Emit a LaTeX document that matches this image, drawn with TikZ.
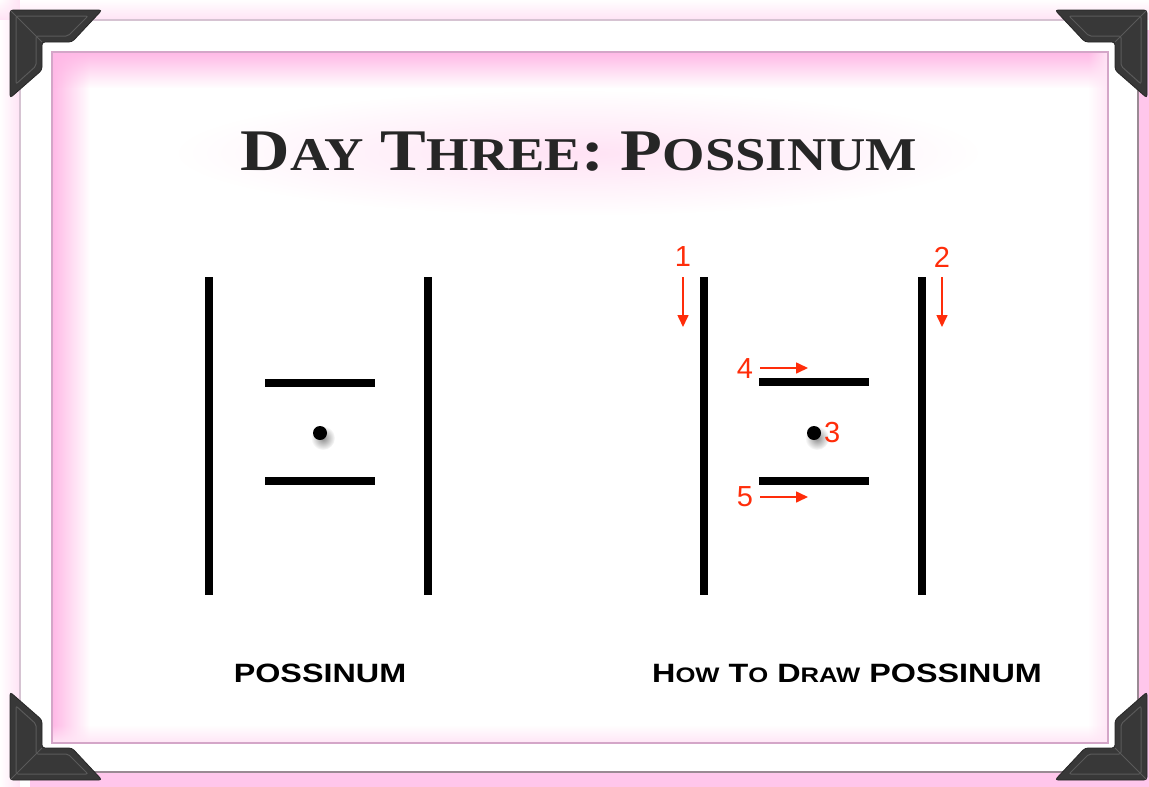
\documentclass[tikz,border=0pt]{standalone}
\usepackage{fontspec}
\newfontfamily\titlefont{Liberation Serif}
\newfontfamily\capsfont{Liberation Sans}
\usetikzlibrary{arrows.meta, fadings}

\definecolor{rosa}{HTML}{FFB8E6}
\definecolor{framegray}{HTML}{D6C3D2}
\definecolor{framedark}{HTML}{9A8A94}
\definecolor{innerline}{HTML}{D4A6C8}
\definecolor{bracketgray}{HTML}{383838}
\definecolor{bevelgray}{HTML}{5A5A5A}
\definecolor{redmark}{HTML}{FF2D0A}
\definecolor{inkdark}{HTML}{262626}

\tikzfading[name=glowleft, left color=transparent!0, right color=transparent!100]
\tikzfading[name=glowright, left color=transparent!100, right color=transparent!0]
\tikzfading[name=glowtop, top color=transparent!0, bottom color=transparent!100]
\tikzfading[name=glowbottom, top color=transparent!100, bottom color=transparent!0]
\tikzfading[name=glowround, inner color=transparent!0, outer color=transparent!100]

% small letters for the fake small caps
\newcommand{\lc}[1]{{\fontsize{47}{47}\selectfont #1}}
\newcommand{\lcap}[1]{{\fontsize{21}{21}\selectfont #1}}

\begin{document}
\begin{tikzpicture}[
    x=1pt, y=-1pt,
    > = {Triangle[length=12pt, width=11pt]},
    stroke/.style={line width=8pt},
    hint/.style={draw=redmark, line width=1.6pt, ->},
    num/.style={text=redmark, font=\capsfont\fontsize{29}{29}\selectfont, inner sep=0pt},
    heading/.style={text=inkdark, font=\titlefont\bfseries\fontsize{59}{59}\selectfont, anchor=base, inner sep=0pt},
    caption/.style={font=\capsfont\bfseries\fontsize{26.5}{27}\selectfont, anchor=base, inner sep=0pt},
    bracket/.style={fill=bracketgray, draw=black!85, line width=0.8pt, rounded corners=3pt},
    bevel/.style={draw=bevelgray, line width=1pt, rounded corners=2pt}
]
    \useasboundingbox (0,0) rectangle (1149,787);
    \fill[white] (0,0) rectangle (1149,787);

    % pink glow round the card
    \fill[rosa!80] (30,30) rectangle (1149,787);
    \fill[rosa!40, path fading=glowbottom] (0,0) rectangle (1149,20);
    \fill[rosa!40, path fading=glowright] (0,0) rectangle (20,787);
    \fill[white] (20,20) rectangle (1138,772);
    \draw[framegray, line width=1.5pt] (20,772) -- (20,20) -- (1138,20);
    \draw[framedark, line width=1.5pt] (1138,20) -- (1138,772) -- (20,772);

    % inner panel with its glow
    \fill[rosa, path fading=glowleft] (52,52) rectangle (90,743);
    \fill[rosa, path fading=glowtop] (52,52) rectangle (1108,88);
    \fill[rosa!35, path fading=glowright] (1088,52) rectangle (1108,743);
    \fill[rosa!35, path fading=glowbottom] (52,725) rectangle (1108,743);
    \draw[innerline, line width=1.2pt] (52,52) rectangle (1108,743);

    % corner pieces
    \foreach \sx/\sy/\dx/\dy in {1/1/0/0, -1/1/1157/0, 1/-1/0/790, -1/-1/1157/790}{
        \begin{scope}[shift={(\dx,\dy)}, xscale=\sx, yscale=\sy]
            \draw[bracket] (10,10) -- (102,10) -- (72,42) -- (42,42) -- (42,70) -- (10,98) -- cycle;
            \draw[bevel] (16,16) -- (88,16) -- (68,36) -- (36,36) -- (36,66) -- (16,84) -- cycle;
            \draw[bevel] (11,11) -- (42,42);
        \end{scope}
    }

    % title
    \fill[rosa!40, path fading=glowround] (579,153) ellipse [x radius=400, y radius=62];
    \node[heading] (title) at (579,170)
        {\scalebox{1.16}[1]{D\lc{AY} T\lc{HREE}: P\lc{OSSINUM}}};

    % the glyph
    \draw[stroke] (209,277) -- (209,595);
    \draw[stroke] (428,277) -- (428,595);
    \draw[stroke] (265,383) -- (375,383);
    \draw[stroke] (265,481) -- (375,481);
    \fill[black!45, path fading=glowround] (323,438) circle (12);
    \fill (320,433) circle (7);
    \node[caption] (name) at (320,682) {\scalebox{1.22}[1]{POSSINUM}};

    % the glyph, stroke by stroke
    \draw[stroke] (703.5,277) -- (703.5,595);
    \draw[stroke] (922,277) -- (922,595);
    \draw[stroke] (759,382) -- (869,382);
    \draw[stroke] (759,481) -- (869,481);
    \fill[black!45, path fading=glowround] (817,438) circle (12);
    \fill (814,433) circle (7);

    \node[num] (n1) at (683,257) {1};
    \node[num] (n2) at (942,257) {2};
    \node[num, anchor=west] (n3) at (824,433) {3};
    \node[num] (n4) at (745,369) {4};
    \node[num] (n5) at (745,497) {5};

    \coordinate (a1s) at (683,277);  \coordinate (a1e) at (683,327);
    \coordinate (a2s) at (942,277);  \coordinate (a2e) at (942,327);
    \coordinate (a4s) at (760,368);  \coordinate (a4e) at (808,368);
    \coordinate (a5s) at (760,497);  \coordinate (a5e) at (808,497);
    \draw[hint] (a1s) -- (a1e);
    \draw[hint] (a2s) -- (a2e);
    \draw[hint] (a4s) -- (a4e);
    \draw[hint] (a5s) -- (a5e);

    \node[caption] (howto) at (847,682)
        {\scalebox{1.22}[1]{H\lcap{OW} T\lcap{O} D\lcap{RAW} POSSINUM}};
\end{tikzpicture}
\end{document}
